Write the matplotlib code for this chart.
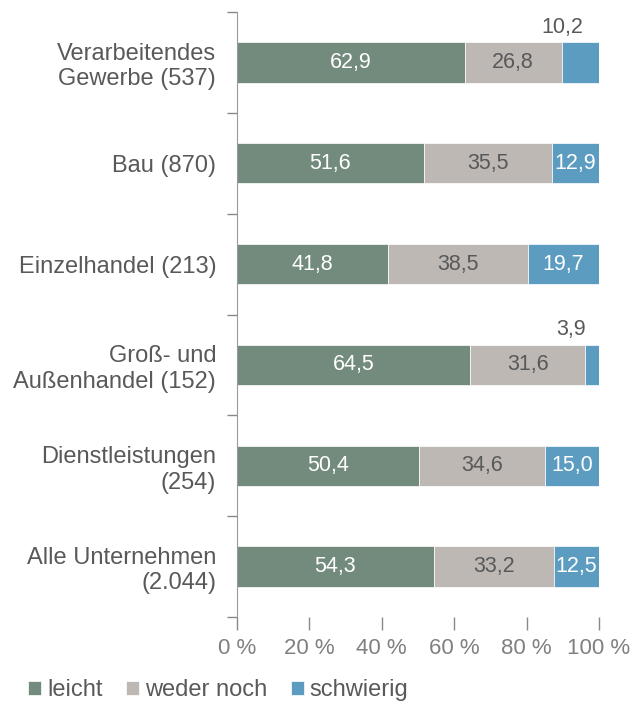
import matplotlib
matplotlib.use("Agg")
import matplotlib.pyplot as plt
import numpy as np

categories = ["Verarbeitendes\nGewerbe (537)", "Bau (870)", "Einzelhandel (213)",
              "Groß- und\nAußenhandel (152)", "Dienstleistungen\n(254)",
              "Alle Unternehmen\n(2.044)"]
leicht = [62.9, 51.6, 41.8, 64.5, 50.4, 54.3]
weder = [26.8, 35.5, 38.5, 31.6, 34.6, 33.2]
schwierig = [10.2, 12.9, 19.7, 3.9, 15.0, 12.5]
series_names = ["leicht", "weder noch", "schwierig"]
xticks = [0, 20, 40, 60, 80, 100]

colors = ["#728B7D", "#BDB8B4", "#5B9CC0"]
text_colors = ["white", "#595959", "white"]

plt.rcParams['font.family'] = ['Liberation Sans', 'DejaVu Sans']

fig = plt.figure(figsize=(6.35, 7.05), dpi=100)
ax = fig.add_axes([237/635, 1-617/705, (599-237)/635, (617-12)/705])

y = np.arange(len(categories))
left = np.zeros(len(categories))
for vals, col, tc, name in zip([leicht, weder, schwierig], colors, text_colors, series_names):
    vals = np.array(vals)
    bars = ax.barh(y, vals, left=left, height=0.4, color=col, label=name,
                   edgecolor="white", linewidth=0.5)
    for i, (b, v) in enumerate(zip(bars, vals)):
        txt = f"{v:.1f}".replace(".", ",")
        if v < 11:
            ax.text(left[i] + v / 2 - 5 if v > 5 else 92.3, i - 0.35, txt,
                    ha="center", va="center", color="#595959", fontsize=15.5)
        else:
            ax.text(left[i] + v / 2, i, txt, ha="center", va="center",
                    color=tc, fontsize=15.5)
    left += vals

ax.set_xlim(0, 100)
ax.set_ylim(len(categories) - 0.5, -0.5)
ax.set_yticks(y)
ax.set_yticklabels(categories, fontsize=17, color="#595959", ha="right")
ax.tick_params(axis="y", length=0, pad=15)
ax.set_yticks(np.arange(-0.5, len(categories), 1), minor=True)
ax.tick_params(axis="y", which="minor", length=7, color="#888888", width=1)

ax.set_xticks(xticks)
ax.set_xticklabels([f"{t} %" for t in xticks], fontsize=16, color="#808080")
ax.tick_params(axis="x", length=9, color="#888888", width=1, pad=6)

for s in ["top", "right", "bottom"]:
    ax.spines[s].set_visible(False)
ax.spines["left"].set_color("#999999")

handles, labels = ax.get_legend_handles_labels()
fig.legend(handles, labels, loc="center left", bbox_to_anchor=(28/635, 1-690/705),
           ncol=3, frameon=False, fontsize=17, handlelength=0.55, handleheight=0.55,
           handletextpad=0.25, columnspacing=1.0, labelcolor="#595959",
           borderpad=0, borderaxespad=0)

fig.savefig("out.png", dpi=100)
